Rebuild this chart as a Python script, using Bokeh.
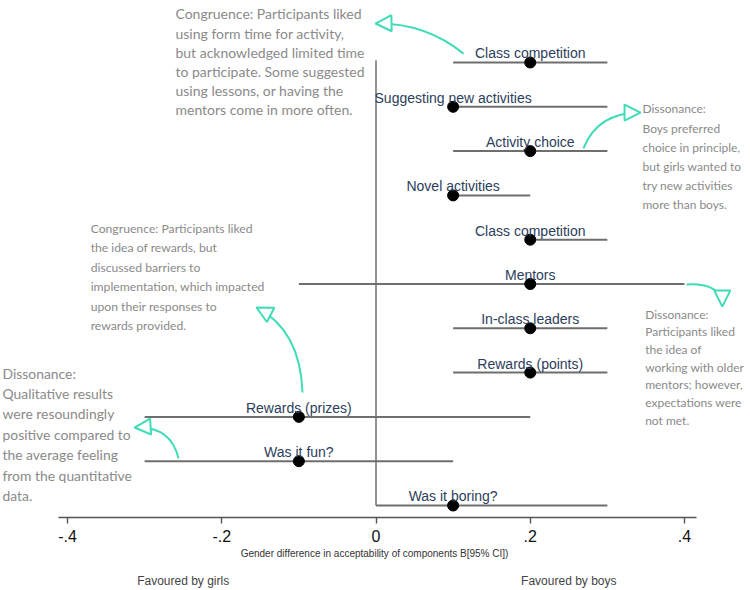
from bokeh.plotting import figure
from bokeh.models import ColumnDataSource, FixedTicker, Range1d, LinearAxis, Arrow, NormalHead
from bokeh.core.properties import value
from bokeh.embed import file_html
from bokeh.resources import INLINE

# ---------------- data ----------------
components = ["Class competition", "Suggesting new activities", "Activity choice",
              "Novel activities", "Class competition", "Mentors", "In-class leaders",
              "Rewards (points)", "Rewards (prizes)", "Was it fun?", "Was it boring?"]
estimate = [0.2, 0.1, 0.2, 0.1, 0.2, 0.2, 0.2, 0.2, -0.1, -0.1, 0.1]
ci_low = [0.1, 0.1, 0.1, 0.1, 0.2, -0.1, 0.1, 0.1, -0.3, -0.3, 0.0]
ci_high = [0.3, 0.3, 0.3, 0.2, 0.3, 0.4, 0.3, 0.3, 0.2, 0.1, 0.3]
tick_values = [-0.4, -0.2, 0.0, 0.2, 0.4]
tick_labels = ["-.4", "-.2", "0", ".2", ".4"]
x_title = "Gender difference in acceptability of components B[95% CI])"
side_ticks = [-0.25, 0.25]
side_labels = ["Favoured by girls", "Favoured by boys"]

n = len(components)
ypos = [n - 1 - i for i in range(n)]

src = ColumnDataSource(dict(comp=components, est=estimate, lo=ci_low, hi=ci_high, y=ypos))

# ---------------- figure ----------------
p = figure(width=748, height=590, output_backend="svg", toolbar_location=None,
           x_range=Range1d(-0.48687, 0.48298), y_range=Range1d(-0.2709, 11.3995),
           min_border_left=0, min_border_right=0, min_border_top=0, min_border_bottom=73)
p.outline_line_color = None
p.grid.visible = False
p.yaxis.visible = False
p.background_fill_color = "white"

ax = p.xaxis[0]
ax.ticker = FixedTicker(ticks=tick_values)
ax.major_label_overrides = dict(zip(tick_values, tick_labels))
ax.bounds = (-0.412, 0.416)
ax.axis_line_color = "#555555"
ax.axis_line_width = 1.6
ax.major_tick_line_color = "#555555"
ax.major_tick_line_width = 1.4
ax.major_tick_out = 6
ax.major_tick_in = 0
ax.minor_tick_line_color = None
ax.major_label_standoff = 6
ax.major_label_text_font = "Liberation Sans"
ax.major_label_text_font_size = "16px"
ax.major_label_text_color = "#111111"
ax.axis_label = x_title
ax.axis_label_standoff = 3
ax.axis_label_text_font = "Liberation Sans"
ax.axis_label_text_font_size = "10px"
ax.axis_label_text_font_style = "normal"
ax.axis_label_text_color = "#333333"

# second, line-less axis carrying the direction notes
side = LinearAxis(ticker=FixedTicker(ticks=side_ticks),
                  major_label_overrides=dict(zip(side_ticks, side_labels)))
side.axis_line_color = None
side.major_tick_line_color = None
side.minor_tick_line_color = None
side.major_label_standoff = 6
side.major_label_text_font = "Liberation Sans"
side.major_label_text_font_size = "12px"
side.major_label_text_color = "#444444"
p.add_layout(side, "below")

# zero reference line
p.segment(x0=[0], y0=[min(ypos)], x1=[0], y1=[max(ypos) + 0.05],
          line_color="#6f6f6f", line_width=1.5)

# confidence intervals
p.segment(x0="lo", y0="y", x1="hi", y1="y", source=src, line_color="#6e6e6e", line_width=2)
# point estimates
p.scatter(x="est", y="y", source=src, size=11, fill_color="black", line_color="black")
# component labels
p.text(x="est", y="y", text="comp", source=src, text_align="center", text_baseline="alphabetic",
       y_offset=-9, text_font=value("Liberation Sans"), text_font_size="14px",
       text_color="#2c3e5c")

# ---------------- qualitative annotations ----------------
note_font = "Lato"
grey = "#8a8a8a"
notes = [
    ("Congruence: Participants liked\nusing form time for activity,\nbut acknowledged limited time\n"
     "to participate. Some suggested\nusing lessons, or having the\nmentors come in more often.",
     -0.26, 11.29, "14px", 1.13),
    ("Dissonance:\nBoys preferred\nchoice in principle,\nbut girls wanted to\ntry new activities\nmore than boys.",
     0.3455, 9.12, "12px", 1.28),
    ("Congruence: Participants liked\nthe idea of rewards, but\ndiscussed barriers to\n"
     "implementation, which impacted\nupon their responses to\nrewards provided.",
     -0.370, 6.43, "12.2px", 1.3),
    ("Dissonance:\nQualitative results\nwere resoundingly\npositive compared to\nthe average feeling\n"
     "from the quantitative\ndata.",
     -0.4843, 3.18, "13.9px", 1.2),
    ("Dissonance:\nParticipants liked\nthe idea of\nworking with older\nmentors; however,\nexpectations were\nnot met.",
     0.349, 4.49, "12px", 1.18),
]
for txt, xx, yy, fs, lh in notes:
    p.text(x=[xx], y=[yy], text=[txt], text_align="left", text_baseline="top",
           text_font=value(note_font), text_font_size=fs, text_color=grey,
           text_line_height=lh)

teal = "#3fdcb8"
arrows = [
    # (start x, start y, control x, control y, tip x, tip y)
    (0.1135, 10.20, 0.064, 10.90, -0.0006, 10.88),
    (0.269, 8.06, 0.287, 8.87, 0.343, 8.87),
    (0.4026, 4.99, 0.449, 5.03, 0.449, 4.49),
    (-0.0953, 2.55, -0.098, 3.95, -0.155, 4.47),
    (-0.256, 1.06, -0.266, 1.81, -0.313, 1.76),
]
for sx, sy, cx, cy, tx, ty in arrows:
    p.quadratic(x0=[sx], y0=[sy], x1=[tx], y1=[ty], cx=[cx], cy=[cy],
                line_color=teal, line_width=2)
    p.add_layout(Arrow(x_start=cx, y_start=cy, x_end=tx, y_end=ty, line_alpha=0,
                       end=NormalHead(size=16, fill_color="white", line_color=teal, line_width=2)))

open("out.html", "w").write(file_html(p, INLINE))
